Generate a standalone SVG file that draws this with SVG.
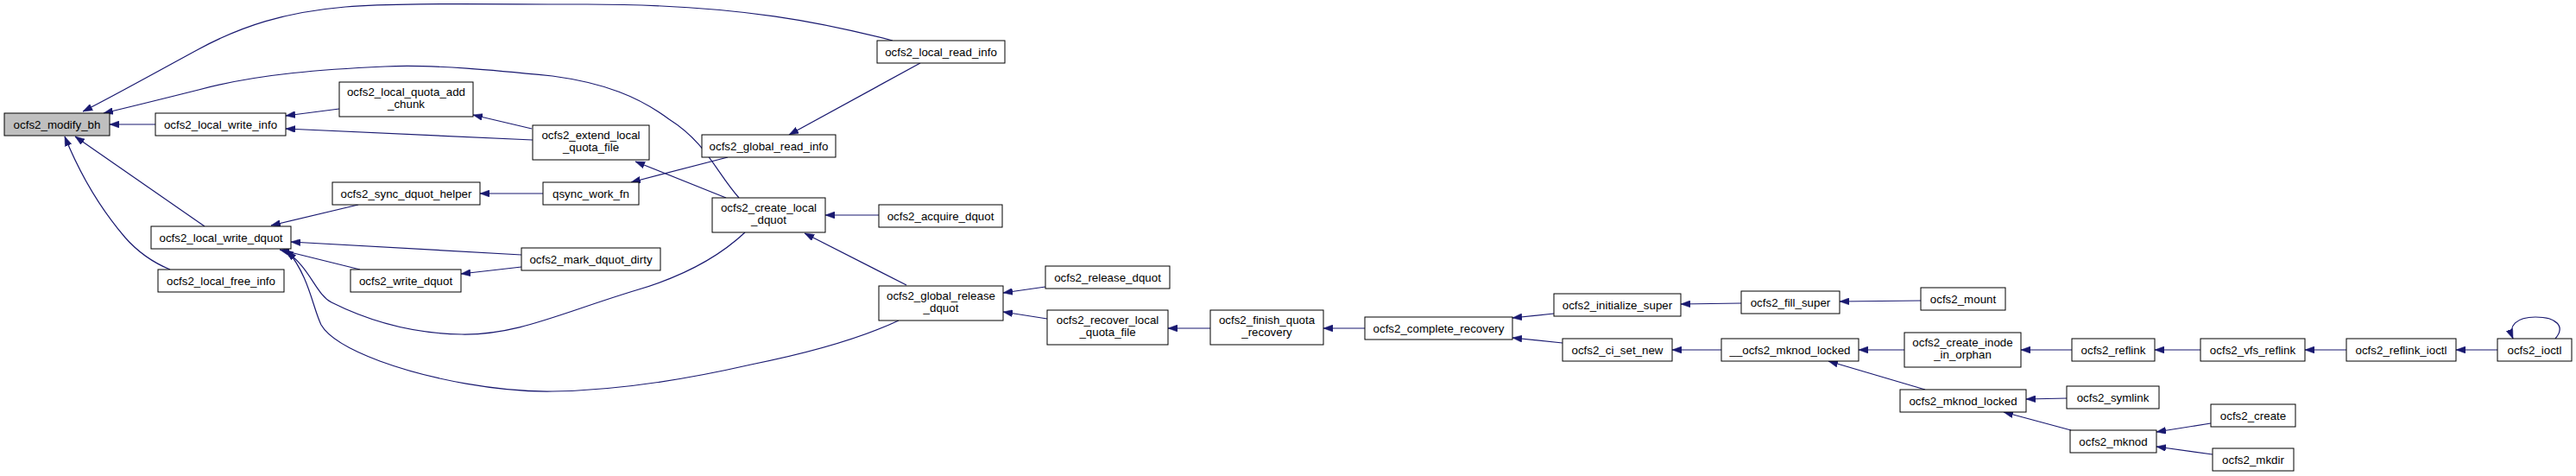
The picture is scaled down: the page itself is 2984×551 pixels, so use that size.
<svg xmlns="http://www.w3.org/2000/svg" width="2984" height="551" viewBox="0 0 2984 551">
<style>
.n rect{fill:#ffffff;stroke:#000000;stroke-width:1}
.root rect{fill:#bfbfbf}
.n text{font-family:"Liberation Sans",Arial,sans-serif;font-size:13.33px;text-anchor:middle;fill:#000000}
#edges path{fill:none;stroke:#191970;stroke-width:1.2;marker-end:url(#ah)}
</style>
<defs>
<marker id="ah" markerUnits="userSpaceOnUse" markerWidth="11" markerHeight="8" refX="11" refY="4" orient="auto">
<path d="M0,0 L11,4 L0,8 z" fill="#191970" stroke="#191970" stroke-width="0.5"/>
</marker>
</defs>
<rect width="2984" height="551" fill="#ffffff"/>
<g id="edges">
<path d="M1034,47 C960,28 860,5 680,5 C560,5 460,3 400,8 C330,14 280,30 230,57 C180,84 130,112 96,129"/>
<path d="M856,229 C830,200 818,165 775,138 C740,112 700,96 640,88 C580,82 500,74 446,77 C380,80 300,85 230,104 C190,114 150,124 120,131"/>
<path d="M180,144 L127,144"/>
<path d="M393,126 L331,134"/>
<path d="M617,162 L331,149"/>
<path d="M616,149 L548,133"/>
<path d="M237,262 L87,158"/>
<path d="M197,312 C175,303 160,292 145,275 C115,240 92,200 75,158"/>
<path d="M415,237 L314,261"/>
<path d="M629,224 L556,224"/>
<path d="M841,229 L736,187"/>
<path d="M843,182 L731,211"/>
<path d="M1066,73 L914,156"/>
<path d="M1018,249 L956,249"/>
<path d="M604,295 L337,280"/>
<path d="M604,309 L534,317"/>
<path d="M417,312 L324,289"/>
<path d="M863,269 C830,300 790,320 740,335 C650,362 600,388 535,387 C470,386 420,368 384,350 C365,340 360,310 329,289"/>
<path d="M1041,371 C990,395 930,410 870,422 C800,438 720,452 640,453 C580,454 500,440 440,418 C400,403 380,390 372,376 C362,355 358,320 333,290"/>
<path d="M1050,330 L932,270"/>
<path d="M1211,332 L1162,339"/>
<path d="M1213,369 L1162,361"/>
<path d="M1402,380 L1353,380"/>
<path d="M1581,380 L1533,380"/>
<path d="M1800,363 L1752,368"/>
<path d="M1810,397 L1752,391"/>
<path d="M2017,351 L1947,352"/>
<path d="M1994,405 L1937,405"/>
<path d="M2225,348 L2131,349"/>
<path d="M2206,405 L2153,405"/>
<path d="M2400,405 L2341,405"/>
<path d="M2549,405 L2496,405"/>
<path d="M2718,405 L2670,405"/>
<path d="M2893,405 L2845,405"/>
<path d="M2230,451 L2118,418"/>
<path d="M2395,461 L2347,462"/>
<path d="M2399,498 L2321,477"/>
<path d="M2561,490 L2498,500"/>
<path d="M2563,526 L2498,517"/>
<path d="M2960,392 C2972,378 2962,367 2937,367 C2915,367 2905,377 2911,392"/>
</g>
<g id="n_modify_bh" class="n root"><rect x="5" y="131" width="122" height="26"/><text x="66" y="148.5">ocfs2_modify_bh</text></g>
<g id="n_local_write_info" class="n"><rect x="180" y="131" width="151" height="26"/><text x="255.5" y="148.5">ocfs2_local_write_info</text></g>
<g id="n_local_quota_add_chunk" class="n"><rect x="393" y="95" width="155" height="40"/><text x="470.5" y="111">ocfs2_local_quota_add</text><text x="470.5" y="125">_chunk</text></g>
<g id="n_extend_local_quota_file" class="n"><rect x="617" y="145" width="135" height="40"/><text x="684.5" y="161">ocfs2_extend_local</text><text x="684.5" y="175">_quota_file</text></g>
<g id="n_sync_dquot_helper" class="n"><rect x="385" y="211" width="171" height="26"/><text x="470.5" y="228.5">ocfs2_sync_dquot_helper</text></g>
<g id="n_qsync_work_fn" class="n"><rect x="629" y="211" width="111" height="26"/><text x="684.5" y="228.5">qsync_work_fn</text></g>
<g id="n_local_write_dquot" class="n"><rect x="175" y="262" width="162" height="26"/><text x="256" y="279.5">ocfs2_local_write_dquot</text></g>
<g id="n_local_free_info" class="n"><rect x="183" y="312" width="146" height="26"/><text x="256" y="329.5">ocfs2_local_free_info</text></g>
<g id="n_write_dquot" class="n"><rect x="406" y="312" width="128" height="26"/><text x="470" y="329.5">ocfs2_write_dquot</text></g>
<g id="n_mark_dquot_dirty" class="n"><rect x="604" y="287" width="161" height="26"/><text x="684.5" y="304.5">ocfs2_mark_dquot_dirty</text></g>
<g id="n_local_read_info" class="n"><rect x="1016" y="47" width="148" height="26"/><text x="1090" y="64.5">ocfs2_local_read_info</text></g>
<g id="n_global_read_info" class="n"><rect x="813" y="156" width="155" height="26"/><text x="890.5" y="173.5">ocfs2_global_read_info</text></g>
<g id="n_create_local_dquot" class="n"><rect x="825" y="229" width="131" height="40"/><text x="890.5" y="245">ocfs2_create_local</text><text x="890.5" y="259">_dquot</text></g>
<g id="n_acquire_dquot" class="n"><rect x="1018" y="237" width="143" height="26"/><text x="1089.5" y="254.5">ocfs2_acquire_dquot</text></g>
<g id="n_global_release_dquot" class="n"><rect x="1018" y="331" width="144" height="40"/><text x="1090" y="347">ocfs2_global_release</text><text x="1090" y="361">_dquot</text></g>
<g id="n_release_dquot" class="n"><rect x="1211" y="308" width="144" height="26"/><text x="1283" y="325.5">ocfs2_release_dquot</text></g>
<g id="n_recover_local_quota_file" class="n"><rect x="1213" y="359" width="140" height="40"/><text x="1283" y="375">ocfs2_recover_local</text><text x="1283" y="389">_quota_file</text></g>
<g id="n_finish_quota_recovery" class="n"><rect x="1402" y="359" width="131" height="40"/><text x="1467.5" y="375">ocfs2_finish_quota</text><text x="1467.5" y="389">_recovery</text></g>
<g id="n_complete_recovery" class="n"><rect x="1581" y="367" width="171" height="26"/><text x="1666.5" y="384.5">ocfs2_complete_recovery</text></g>
<g id="n_initialize_super" class="n"><rect x="1800" y="340" width="147" height="26"/><text x="1873.5" y="357.5">ocfs2_initialize_super</text></g>
<g id="n_ci_set_new" class="n"><rect x="1810" y="392" width="127" height="26"/><text x="1873.5" y="409.5">ocfs2_ci_set_new</text></g>
<g id="n_fill_super" class="n"><rect x="2017" y="337" width="114" height="26"/><text x="2074" y="354.5">ocfs2_fill_super</text></g>
<g id="n_mount" class="n"><rect x="2225" y="333" width="98" height="26"/><text x="2274" y="350.5">ocfs2_mount</text></g>
<g id="n___mknod_locked" class="n"><rect x="1994" y="392" width="159" height="26"/><text x="2073.5" y="409.5">__ocfs2_mknod_locked</text></g>
<g id="n_create_inode_in_orphan" class="n"><rect x="2206" y="385" width="135" height="40"/><text x="2273.5" y="401">ocfs2_create_inode</text><text x="2273.5" y="415">_in_orphan</text></g>
<g id="n_mknod_locked" class="n"><rect x="2201" y="451" width="146" height="26"/><text x="2274" y="468.5">ocfs2_mknod_locked</text></g>
<g id="n_reflink" class="n"><rect x="2400" y="392" width="96" height="26"/><text x="2448" y="409.5">ocfs2_reflink</text></g>
<g id="n_vfs_reflink" class="n"><rect x="2549" y="392" width="121" height="26"/><text x="2609.5" y="409.5">ocfs2_vfs_reflink</text></g>
<g id="n_reflink_ioctl" class="n"><rect x="2718" y="392" width="127" height="26"/><text x="2781.5" y="409.5">ocfs2_reflink_ioctl</text></g>
<g id="n_ioctl" class="n"><rect x="2893" y="392" width="86" height="26"/><text x="2936" y="409.5">ocfs2_ioctl</text></g>
<g id="n_symlink" class="n"><rect x="2394" y="447" width="107" height="26"/><text x="2447.5" y="464.5">ocfs2_symlink</text></g>
<g id="n_mknod" class="n"><rect x="2398" y="498" width="100" height="26"/><text x="2448" y="515.5">ocfs2_mknod</text></g>
<g id="n_create" class="n"><rect x="2561" y="468" width="98" height="26"/><text x="2610" y="485.5">ocfs2_create</text></g>
<g id="n_mkdir" class="n"><rect x="2563" y="519" width="94" height="26"/><text x="2610" y="536.5">ocfs2_mkdir</text></g>
</svg>
